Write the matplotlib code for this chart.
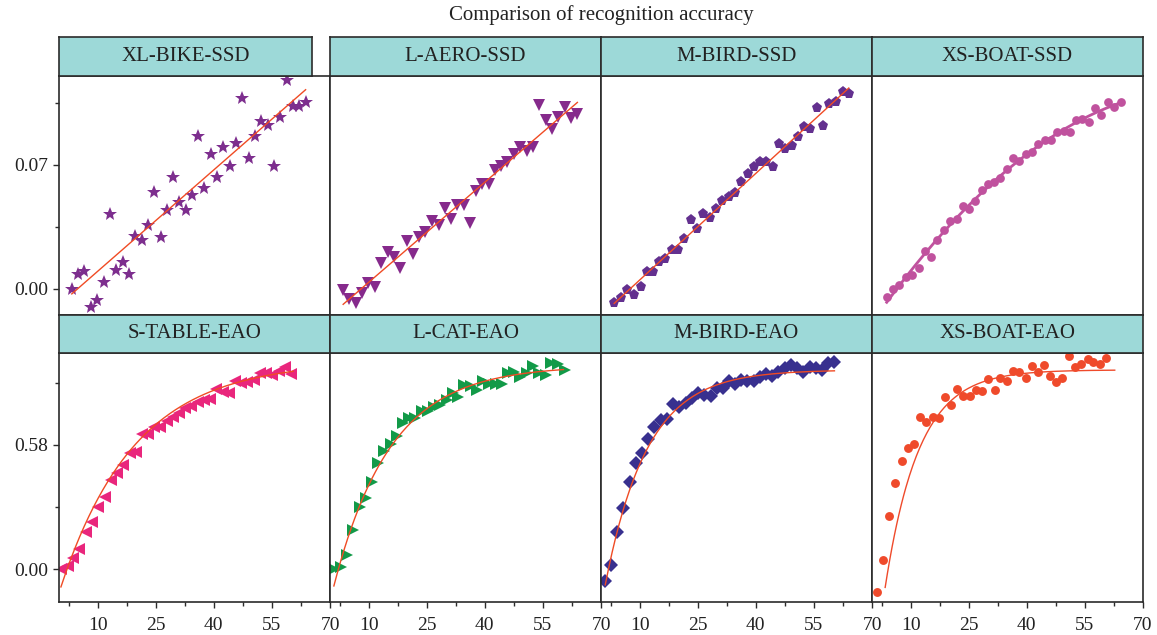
import numpy as np
import matplotlib.pyplot as plt
from matplotlib.ticker import FormatStrFormatter

plt.rcParams['font.family'] = ['Liberation Serif', 'DejaVu Serif']

# panel titles
top_titles = ['XL-BIKE-SSD', 'L-AERO-SSD', 'M-BIRD-SSD', 'XS-BOAT-SSD']
bottom_titles = ['S-TABLE-EAO', 'L-CAT-EAO', 'M-BIRD-EAO', 'XS-BOAT-EAO']

# SSD panels (top row)
bike_ssd_x = [3.3, 4.8, 6.5, 8.2, 9.8, 11.5, 13.1, 14.6, 16.5, 18.1, 19.6, 21.4, 22.9, 24.5, 26.3, 27.8, 29.4, 31.1, 32.7,
              34.3, 35.9, 37.5, 39.2, 40.8, 42.4, 44.1, 45.7, 47.3, 49.0, 50.6, 52.2, 53.9, 55.5, 57.1, 58.8, 60.4, 62.1, 63.7]
bike_ssd_y = [-0.0002, 0.0085, 0.0103, -0.0103, -0.0062, 0.0041, 0.0423, 0.0107, 0.0151, 0.0085, 0.0299, 0.0277, 0.0360,
              0.0548, 0.0295, 0.0444, 0.0634, 0.0489, 0.0444, 0.0531, 0.0865, 0.0570, 0.0760, 0.0634, 0.0803, 0.0696,
              0.0826, 0.1077, 0.0738, 0.0865, 0.0950, 0.0927, 0.0696, 0.0969, 0.1182, 0.1033, 0.1033, 0.1056]

aero_ssd_x = [3.4, 5.0, 6.7, 8.3, 9.9, 11.6, 13.3, 14.9, 16.5, 18.2, 19.8, 21.4, 23.0, 24.6, 26.3, 28.1, 29.6, 31.2, 32.9,
              34.5, 36.2, 37.7, 39.3, 41.0, 42.6, 44.2, 45.8, 47.4, 49.1, 50.8, 52.4, 54.0, 55.7, 57.4, 59.0, 60.6, 62.2, 63.9]
aero_ssd_y = [-0.0006, -0.0058, -0.0077, -0.0024, 0.0032, 0.0010, 0.0145, 0.0211, 0.0179, 0.0120, 0.0273, 0.0196, 0.0292,
              0.0323, 0.0386, 0.0361, 0.0456, 0.0397, 0.0474, 0.0474, 0.0371, 0.0553, 0.0593, 0.0593, 0.0672, 0.0696,
              0.0719, 0.0762, 0.0803, 0.0779, 0.0803, 0.1039, 0.0954, 0.0903, 0.0969, 0.1026, 0.0964, 0.0988]

bird_ssd_x = [3.4, 5.1, 6.8, 8.5, 10.3, 11.8, 13.5, 15.0, 16.6, 18.3, 19.9, 21.5, 23.2, 24.8, 26.4, 28.1, 29.7, 31.3, 33.0,
              34.6, 36.2, 37.9, 39.4, 41.1, 42.7, 44.3, 46.0, 47.6, 49.3, 50.9, 52.4, 54.1, 55.8, 57.4, 59.0, 60.7, 62.4, 64.0]
bird_ssd_y = [-0.0077, -0.0053, -0.0006, -0.0034, 0.0013, 0.0094, 0.0094, 0.0151, 0.0171, 0.0222, 0.0220, 0.0281, 0.0390,
              0.0339, 0.0421, 0.0399, 0.0452, 0.0497, 0.0521, 0.0542, 0.0602, 0.0649, 0.0690, 0.0715, 0.0719, 0.0687,
              0.0817, 0.0790, 0.0809, 0.0860, 0.0913, 0.0903, 0.1022, 0.0920, 0.1044, 0.1054, 0.1110, 0.1099]

boat_ssd_x = [3.8, 5.4, 7.1, 8.8, 10.4, 12.1, 13.7, 15.2, 16.9, 18.6, 20.2, 21.9, 23.4, 25.1, 26.7, 28.3, 29.9, 31.5, 33.1,
              34.8, 36.5, 38.0, 39.7, 41.3, 42.9, 44.7, 46.2, 47.9, 49.5, 51.1, 52.7, 54.3, 56.0, 57.6, 59.2, 60.9, 62.6, 64.2]
boat_ssd_y = [-0.0043, -0.0002, 0.0023, 0.0066, 0.0079, 0.0120, 0.0213, 0.0182, 0.0277, 0.0333, 0.0384, 0.0393, 0.0470,
              0.0452, 0.0497, 0.0559, 0.0591, 0.0604, 0.0627, 0.0677, 0.0741, 0.0724, 0.0762, 0.0773, 0.0819, 0.0839,
              0.0839, 0.0885, 0.0892, 0.0888, 0.0952, 0.0961, 0.0943, 0.1023, 0.0982, 0.1054, 0.1029, 0.1054]

# EAO panels (bottom row)
table_eao_x = [0.5, 2.3, 3.7, 5.2, 7.0, 8.5, 10.2, 11.8, 13.4, 15.0, 16.6, 18.3, 19.9, 21.4, 23.0, 24.5, 26.2, 27.8, 29.4,
               31.0, 32.6, 34.2, 35.8, 37.4, 39.0, 40.6, 42.3, 43.8, 45.4, 47.0, 48.6, 50.3, 51.9, 53.5, 55.1, 56.7, 58.4, 59.9]
table_eao_y = [0.000, 0.015, 0.051, 0.095, 0.176, 0.222, 0.289, 0.336, 0.417, 0.448, 0.487, 0.541, 0.549, 0.631, 0.631,
               0.665, 0.663, 0.692, 0.709, 0.731, 0.751, 0.763, 0.779, 0.790, 0.793, 0.840, 0.829, 0.821, 0.880, 0.871,
               0.875, 0.883, 0.915, 0.917, 0.907, 0.927, 0.943, 0.911]

cat_eao_x = [1.0, 2.8, 4.5, 6.0, 7.8, 9.3, 10.9, 12.5, 14.0, 15.7, 17.2, 18.9, 20.5, 22.0, 23.7, 25.2, 26.9, 28.5, 30.1,
             31.7, 33.1, 34.7, 36.3, 38.0, 39.5, 41.1, 42.8, 44.4, 46.0, 47.6, 49.2, 50.8, 52.4, 54.0, 55.7, 57.1, 58.8, 60.6]
cat_eao_y = [0.000, 0.012, 0.067, 0.183, 0.292, 0.331, 0.409, 0.495, 0.554, 0.585, 0.624, 0.681, 0.705, 0.705, 0.740,
             0.740, 0.756, 0.767, 0.790, 0.821, 0.806, 0.860, 0.855, 0.837, 0.879, 0.865, 0.865, 0.865, 0.915, 0.922,
             0.899, 0.917, 0.949, 0.917, 0.907, 0.961, 0.958, 0.930]

bird_eao_x = [1.0, 2.6, 4.2, 5.8, 7.4, 9.0, 10.6, 12.2, 13.7, 15.4, 17.0, 18.7, 20.2, 21.9, 23.5, 25.0, 26.6, 28.3, 29.9,
              31.4, 33.0, 34.6, 36.2, 37.8, 39.4, 41.0, 42.6, 44.2, 45.8, 47.4, 49.1, 50.6, 52.2, 53.9, 55.5, 57.1, 58.6, 60.3]
bird_eao_y = [-0.053, 0.019, 0.173, 0.286, 0.406, 0.495, 0.541, 0.607, 0.665, 0.697, 0.700, 0.770, 0.759, 0.777, 0.798,
              0.824, 0.813, 0.809, 0.845, 0.845, 0.880, 0.865, 0.883, 0.880, 0.880, 0.899, 0.911, 0.902, 0.922, 0.938,
              0.953, 0.938, 0.922, 0.945, 0.938, 0.930, 0.961, 0.966]

boat_eao_x = [1.2, 2.8, 4.5, 6.0, 7.7, 9.2, 10.8, 12.4, 14.0, 15.7, 17.3, 18.9, 20.5, 22.0, 23.6, 25.2, 26.8, 28.4, 30.0,
              31.7, 33.1, 34.8, 36.5, 38.0, 39.7, 41.2, 42.8, 44.4, 46.0, 47.6, 49.2, 50.9, 52.4, 54.0, 55.7, 57.1, 58.9, 60.5]
boat_eao_y = [-0.105, 0.043, 0.249, 0.401, 0.505, 0.565, 0.583, 0.709, 0.689, 0.712, 0.707, 0.805, 0.767, 0.841, 0.809,
              0.809, 0.837, 0.833, 0.887, 0.837, 0.891, 0.879, 0.927, 0.919, 0.891, 0.949, 0.919, 0.953, 0.902, 0.875,
              0.891, 0.995, 0.945, 0.958, 0.981, 0.966, 0.957, 0.987]

# fitted curves: SSD -> polynomial degree, EAO -> y = a - b*exp(-k*x)
ssd_fit_deg = [1, 1, 1, 2]
eao_fit_a = [0.97, 0.95, 0.93, 0.93]
eao_fit_b = [1.08, 1.10, 1.11, 1.50]
eao_fit_k = [0.052, 0.068, 0.0925, 0.115]
eao_fit_range = [(0.5, 60.5), (1.0, 60.3), (1.1, 60.3), (3.4, 62.7)]

top_data = [(bike_ssd_x, bike_ssd_y), (aero_ssd_x, aero_ssd_y), (bird_ssd_x, bird_ssd_y), (boat_ssd_x, boat_ssd_y)]
bottom_data = [(table_eao_x, table_eao_y), (cat_eao_x, cat_eao_y), (bird_eao_x, bird_eao_y), (boat_eao_x, boat_eao_y)]

top_style = [('*', 10.5, '#7d2e8e'), ('v', 9, '#862a8c'), ('p', 8, '#63308f'), ('o', 6.3, '#c0529e')]
bottom_style = [('<', 8.6, '#e9267c'), ('>', 8.4, '#129a48'), ('D', 6.8, '#38308f'), ('o', 6.4, '#ef4a2b')]
fit_color = '#f04b24'
header_color = '#9dd9d8'
edge_color = '#2b2b2b'

W, H = 1157, 635
fig = plt.figure(figsize=(W / 100, H / 100), dpi=100)


def px_axes(x0, y0, w, h):
    # pixel box (top-left origin) -> figure axes
    return fig.add_axes([x0 / W, 1 - (y0 + h) / H, w / W, h / H])


def style_frame(ax):
    for s in ax.spines.values():
        s.set_color(edge_color)
        s.set_linewidth(1.2)
    ax.tick_params(which='both', direction='out', color=edge_color, width=1.0, labelsize=14,
                   labelcolor='#222222')
    ax.tick_params(which='major', length=4, pad=4)
    ax.tick_params(which='minor', length=3)


def header(x0, y0, w, h, text):
    hx = px_axes(x0, y0, w, h)
    hx.set_facecolor(header_color)
    hx.set_xticks([])
    hx.set_yticks([])
    for s in hx.spines.values():
        s.set_color(edge_color)
        s.set_linewidth(1.2)
    hx.text(0.5, 0.5, text, ha='center', va='center', fontsize=15, color='#222222', transform=hx.transAxes)


lefts = [59, 330, 601, 872]
pw = 271

for i in range(4):
    # top row: SSD
    ax = px_axes(lefts[i], 76, pw, 239)
    style_frame(ax)
    x = np.array(top_data[i][0])
    y = np.array(top_data[i][1])
    m, ms, c = top_style[i]
    ax.plot(x, y, ls='none', marker=m, ms=ms, color=c, mew=0)
    coef = np.polyfit(x, y, ssd_fit_deg[i])
    xx = np.linspace(x.min(), x.max(), 200)
    if i == 3:
        ax.plot(xx, np.polyval(coef, xx), color=c, lw=2.0)
    else:
        ax.plot(xx, np.polyval(coef, xx), color=fit_color, lw=1.0)
    ax.set_xlim(0, 70)
    ax.set_ylim(-0.0147, 0.1202)
    ax.set_xticks([])
    if i == 0:
        ax.set_yticks([0.0, 0.07])
        ax.set_yticks([0.035, 0.105], minor=True)
        ax.yaxis.set_major_formatter(FormatStrFormatter('%.2f'))
    else:
        ax.set_yticks([])

    # bottom row: EAO
    bx = px_axes(lefts[i], 353, pw, 249)
    style_frame(bx)
    x = np.array(bottom_data[i][0])
    y = np.array(bottom_data[i][1])
    m, ms, c = bottom_style[i]
    bx.plot(x, y, ls='none', marker=m, ms=ms, color=c, mew=0)
    xx = np.linspace(eao_fit_range[i][0], eao_fit_range[i][1], 200)
    bx.plot(xx, eao_fit_a[i] - eao_fit_b[i] * np.exp(-eao_fit_k[i] * xx), color=fit_color if i < 3 else c, lw=1.0)
    bx.set_xlim(0, 70)
    bx.set_ylim(-0.1526, 1.009)
    bx.set_xticks([10, 25, 40, 55, 70])
    bx.set_xticks([2.5, 17.5, 32.5, 47.5, 62.5], minor=True)
    bx.tick_params(axis='x', which='major', pad=7)
    if i == 0:
        bx.set_yticks([0.0, 0.58])
        bx.set_yticks([0.29, 0.87], minor=True)
        bx.yaxis.set_major_formatter(FormatStrFormatter('%.2f'))
    else:
        bx.set_yticks([])

# strip headers (the first one is drawn a bit shorter, as in the original)
for i in range(4):
    header(lefts[i], 37, 253 if i == 0 else pw, 39, top_titles[i])
    header(lefts[i], 315, pw, 38, bottom_titles[i])

fig.text(601 / W, 1 - 15 / H, 'Comparison of recognition accuracy', ha='center', va='center',
         fontsize=15, color='#222222')

plt.savefig('out.png', dpi=100)
